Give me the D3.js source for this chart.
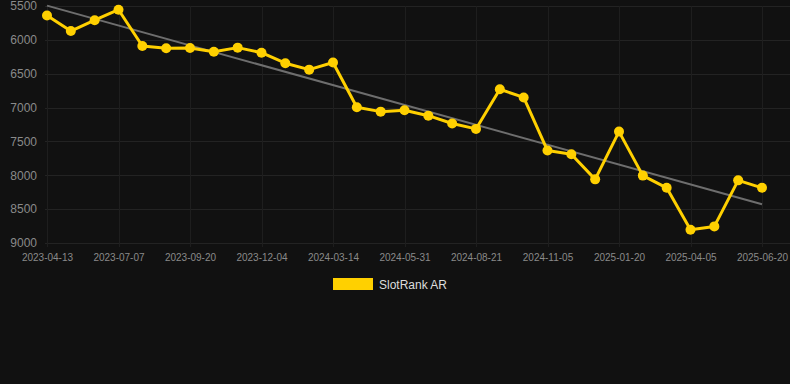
<!DOCTYPE html>
<html>
<head>
<meta charset="utf-8">
<script src="https://cdn.jsdelivr.net/npm/d3@7"></script>
<style>
  html, body { margin: 0; background: #111111; }
  svg { display: block; font-family: "Liberation Sans", Arial, sans-serif; }
</style>
</head>
<body>
<svg id="chart" width="790" height="384"></svg>
<script>
// Data
const dates = [
    "2023-04-13", "2023-05-11", "2023-06-09", "2023-07-07", "2023-08-01", "2023-08-26",
    "2023-09-20", "2023-10-15", "2023-11-09", "2023-12-04", "2024-01-07", "2024-02-10",
    "2024-03-14", "2024-04-09", "2024-05-05", "2024-05-31", "2024-06-27", "2024-07-24",
    "2024-08-21", "2024-09-15", "2024-10-10", "2024-11-05", "2024-11-30", "2024-12-25",
    "2025-01-20", "2025-02-14", "2025-03-11", "2025-04-05", "2025-04-30", "2025-05-25",
    "2025-06-20"
];
const ranks = [
    5640, 5870, 5710, 5555, 6090, 6125, 6120, 6175, 6115, 6190, 6345, 6440,
    6335, 6995, 7060, 7040, 7120, 7235, 7315, 6730, 6850, 7635, 7690, 8060,
    7355, 8005, 8185, 8805, 8755, 8075, 8185
];
const yTicks = [5500, 6000, 6500, 7000, 7500, 8000, 8500, 9000];
const seriesName = "SlotRank AR";

const svg = d3.select("#chart");
const gridLeft = 45, gridRight = 790, plotTop = 6, plotBottom = 243;

const x = d3.scalePoint()
    .domain(dates)
    .range([47, 762]);

const y = d3.scaleLinear()
    .domain([5500, 9000])
    .range([plotTop, plotBottom]);

// Grid
svg.append("g")
    .attr("stroke", "#232323")
    .attr("stroke-width", 1)
    .selectAll("line")
    .data(yTicks)
    .join("line")
    .attr("x1", gridLeft)
    .attr("x2", gridRight)
    .attr("y1", d => Math.round(y(d)) + 0.5)
    .attr("y2", d => Math.round(y(d)) + 0.5);

const labelled = dates.filter((d, i) => i % 3 === 0);

svg.append("g")
    .attr("stroke", "#1e1e1e")
    .attr("stroke-width", 1)
    .selectAll("line")
    .data(labelled)
    .join("line")
    .attr("x1", d => Math.round(x(d)) + 0.5)
    .attr("x2", d => Math.round(x(d)) + 0.5)
    .attr("y1", plotTop)
    .attr("y2", plotBottom + 4);

// Axes
const yAxis = svg.append("g")
    .attr("transform", "translate(37,0)")
    .call(d3.axisLeft(y).tickValues(yTicks).tickSize(0).tickPadding(0).tickFormat(d3.format("d")));
yAxis.select(".domain").remove();
yAxis.selectAll("text")
    .attr("fill", "#8a8a8a")
    .style("font-size", "12px");

const xAxis = svg.append("g")
    .attr("transform", `translate(0,${plotBottom})`)
    .call(d3.axisBottom(x).tickValues(labelled).tickSize(0).tickPadding(11));
xAxis.select(".domain").remove();
xAxis.selectAll("text")
    .attr("fill", "#8a8a8a")
    .style("font-size", "10px");

// Trend line (least squares)
const n = ranks.length;
const mx = d3.mean(ranks, (d, i) => i);
const my = d3.mean(ranks);
const slope = d3.sum(ranks, (d, i) => (i - mx) * (d - my)) / d3.sum(ranks, (d, i) => (i - mx) * (i - mx));
const icpt = my - slope * mx;

svg.append("line")
    .attr("x1", x(dates[0]))
    .attr("y1", y(icpt))
    .attr("x2", x(dates[n - 1]))
    .attr("y2", y(icpt + slope * (n - 1)))
    .attr("stroke", "#6e6e6e")
    .attr("stroke-width", 2);

// Series
const line = d3.line()
    .x((d, i) => x(dates[i]))
    .y(d => y(d));

svg.append("path")
    .datum(ranks)
    .attr("d", line)
    .attr("fill", "none")
    .attr("stroke", "#ffd000")
    .attr("stroke-width", 3)
    .attr("stroke-linejoin", "round");

svg.append("g")
    .attr("fill", "#ffd000")
    .selectAll("circle")
    .data(ranks)
    .join("circle")
    .attr("cx", (d, i) => x(dates[i]))
    .attr("cy", d => y(d))
    .attr("r", 5);

// Legend
const legend = svg.append("g");
legend.append("rect")
    .attr("x", 333)
    .attr("y", 278)
    .attr("width", 40)
    .attr("height", 12)
    .attr("fill", "#ffd000");
legend.append("text")
    .attr("x", 379)
    .attr("y", 289)
    .attr("fill", "#dddddd")
    .style("font-size", "12px")
    .text(seriesName);
</script>
</body>
</html>
